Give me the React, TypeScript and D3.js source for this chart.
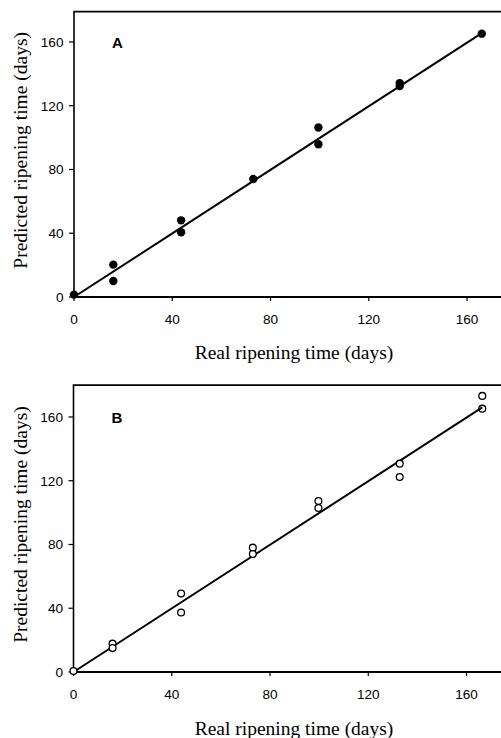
import React from "react";
import * as d3 from "d3";

// Panel A (filled circles)
const realA = [0, 16, 16, 43.6, 43.6, 73, 99.5, 99.5, 132.6, 132.6, 166];
const predA = [1.5, 20.3, 10, 48.1, 40.6, 74, 106.3, 95.8, 134.2, 132.3, 165.2];
const fitA = { x: [0, 166], y: [0, 165.5] };

// Panel B (open circles)
const realB = [0, 15.9, 15.9, 43.8, 43.8, 73, 73, 99.7, 99.7, 132.8, 132.8, 166.4];
const predB = [0.6, 17.8, 15, 49.2, 37.3, 78, 74, 107.3, 102.9, 130.7, 122.3, 173.2];
const realB2 = [166.4];
const predB2 = [165.2];
const fitB = { x: [0, 166.4], y: [0, 166] };

const ticks = [0, 40, 80, 120, 160];
const xTitle = "Real ripening time (days)";
const yTitle = "Predicted ripening time (days)";

type PanelProps = {
  label: string;
  xs: number[];
  ys: number[];
  fit: { x: number[]; y: number[] };
  filled: boolean;
  x0: number;
  yBottom: number;
  yMax: number;
  titleBaseline: number;
  tickBaseline: number;
};

const Panel = ({ label, xs, ys, fit, filled, x0, yBottom, yMax, titleBaseline, tickBaseline }: PanelProps) => {
  const pxX = 2.4565;
  const pxY = 1.594;
  const x = d3.scaleLinear().domain([0, 176]).range([x0, x0 + 176 * pxX]);
  const y = d3.scaleLinear().domain([0, yMax]).range([yBottom, yBottom - yMax * pxY]);
  const line = d3
    .line<number>()
    .x((_, i) => x(fit.x[i]))
    .y((d) => y(d));
  const [xl, xr] = x.range();
  const [yb, yt] = y.range();
  const tickFont = { fontFamily: "Liberation Sans, Arial, sans-serif", fontSize: 13.6 };
  return (
    <g>
      {/* frame */}
      <path d={`M${xl},${yb} L${xl},${yt} L${xr},${yt}`} fill="none" stroke="#000" strokeWidth={1.6} />
      <line x1={xl} x2={xr} y1={yb} y2={yb} stroke="#000" strokeWidth={1.8} />
      {ticks.map((t) => (
        <g key={"x" + t}>
          <line x1={x(t)} x2={x(t)} y1={yb} y2={yb + 4} stroke="#000" strokeWidth={1.2} />
          <text x={x(t)} y={tickBaseline} textAnchor="middle" {...tickFont}>
            {t}
          </text>
        </g>
      ))}
      {ticks.map((t) => (
        <g key={"y" + t}>
          <line x1={xl - 5} x2={xl} y1={y(t)} y2={y(t)} stroke="#000" strokeWidth={1.2} />
          <text x={xl - 10.5} y={y(t)} dy="0.36em" textAnchor="end" {...tickFont}>
            {t}
          </text>
        </g>
      ))}
      <path d={line(fit.y) || ""} fill="none" stroke="#000" strokeWidth={2} />
      {xs.map((v, i) =>
        filled ? (
          <circle key={i} cx={x(v)} cy={y(ys[i])} r={4.2} fill="#000" />
        ) : (
          <circle key={i} cx={x(v)} cy={y(ys[i])} r={3.4} fill="#fff" stroke="#000" strokeWidth={1.3} />
        )
      )}
      {!filled &&
        realB2.map((v, i) => (
          <circle key={"b2" + i} cx={x(v)} cy={y(predB2[i])} r={3.4} fill="none" stroke="#000" strokeWidth={1.3} />
        ))}
      <text
        x={x0 + 38}
        y={y(160) + 6}
        fontFamily="Liberation Sans, Arial, sans-serif"
        fontWeight="bold"
        fontSize={15}
      >
        {label}
      </text>
      <text
        x={294}
        y={titleBaseline}
        textAnchor="middle"
        fontFamily="Liberation Serif, Times New Roman, serif"
        fontSize={19.5}
      >
        {xTitle}
      </text>
      <text
        transform={`translate(27,${(yb + yt) / 2 - 4}) rotate(-90)`}
        textAnchor="middle"
        fontFamily="Liberation Serif, Times New Roman, serif"
        fontSize={19.5}
      >
        {yTitle}
      </text>
    </g>
  );
};

export default function App() {
  return (
    <svg
      width={501}
      height={738}
      style={{ position: "absolute", left: 0, top: 0, background: "#fff" }}
    >
      <rect width={501} height={738} fill="#fff" />
      <Panel
        label="A"
        xs={realA}
        ys={predA}
        fit={fitA}
        filled={true}
        x0={74}
        yBottom={297}
        yMax={179}
        titleBaseline={359}
        tickBaseline={324}
      />
      <Panel
        label="B"
        xs={realB}
        ys={predB}
        fit={fitB}
        filled={false}
        x0={73.5}
        yBottom={672}
        yMax={180}
        titleBaseline={735}
        tickBaseline={699}
      />
    </svg>
  );
}
